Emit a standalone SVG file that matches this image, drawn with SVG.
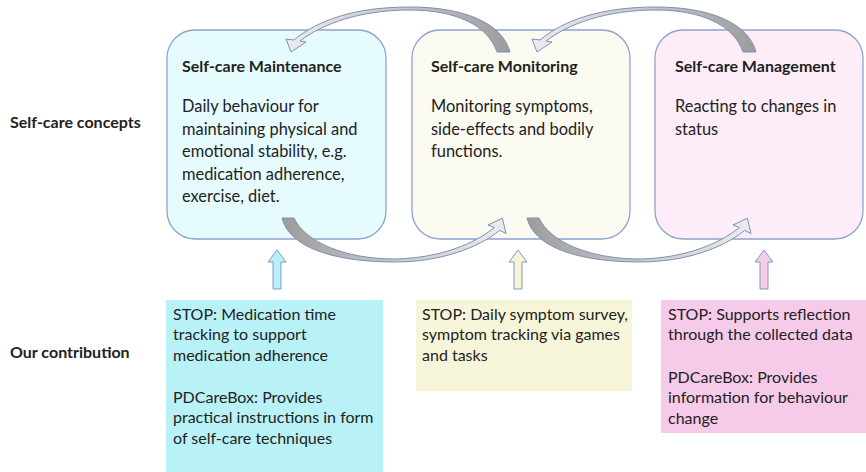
<svg xmlns="http://www.w3.org/2000/svg" width="866" height="472" viewBox="0 0 866 472">
<style>
text{font-family:Lato,"Liberation Sans",sans-serif;font-size:16px;fill:#222}
.b{font-weight:bold}
.body{font-size:16.4px}
.concept{stroke:#8fa3cc;stroke-width:1.3}
.curve{stroke:#7e90b8;stroke-width:1}
.up{stroke:#8397c2;stroke-width:1}
</style>
<defs>
<linearGradient id="gTop" x1="0" y1="0" x2="1" y2="0">
<stop offset="0" stop-color="#ececec"/><stop offset="0.5" stop-color="#c8c8c8"/><stop offset="1" stop-color="#9c9c9c"/>
</linearGradient>
<linearGradient id="gBot" x1="0" y1="0" x2="1" y2="0">
<stop offset="0" stop-color="#9c9c9c"/><stop offset="0.5" stop-color="#c8c8c8"/><stop offset="1" stop-color="#ececec"/>
</linearGradient>
<path id="upArrow" d="M -4 39 L -4 12 L -9 12 L 0 0 L 9 12 L 4 12 L 4 39 Z"/>
</defs>
<rect width="866" height="472" fill="#ffffff"/>

<g id="label-concepts"><text class="b" x="10" y="128">Self-care concepts</text></g>
<g id="label-contribution"><text class="b" x="10" y="358">Our contribution</text></g>

<g id="maintenance">
<rect class="concept" x="167" y="30" width="219" height="209" rx="28" fill="#e6fbfd"/>
<text class="b" x="182" y="72">Self-care Maintenance</text>
<text class="body" x="182" y="112">Daily behaviour for</text>
<text class="body" x="182" y="135">maintaining physical and</text>
<text class="body" x="182" y="157">emotional stability, e.g.</text>
<text class="body" x="182" y="180">medication adherence,</text>
<text class="body" x="182" y="202">exercise, diet.</text>
</g>
<g id="monitoring">
<rect class="concept" x="412" y="30" width="218" height="209" rx="28" fill="#fafaf0"/>
<text class="b" x="431" y="72">Self-care Monitoring</text>
<text class="body" x="431" y="112">Monitoring symptoms,</text>
<text class="body" x="431" y="135">side-effects and bodily</text>
<text class="body" x="431" y="157">functions.</text>
</g>
<g id="management">
<rect class="concept" x="655" y="30" width="208" height="209" rx="28" fill="#fcedf8"/>
<text class="b" x="675" y="72">Self-care Management</text>
<text class="body" x="675" y="112">Reacting to changes in</text>
<text class="body" x="675" y="135">status</text>
</g>

<g id="contrib-maintenance">
<rect x="166" y="300" width="217" height="172" fill="#b8f2f6"/>
<text x="173" y="320">STOP: Medication time</text>
<text x="173" y="340">tracking to support</text>
<text x="173" y="361">medication adherence</text>
<text x="173" y="403">PDCareBox: Provides</text>
<text x="173" y="423">practical instructions in form</text>
<text x="173" y="444">of self-care techniques</text>
</g>
<g id="contrib-monitoring">
<rect x="416" y="300" width="216" height="91" fill="#f7f5d9"/>
<text x="422" y="320">STOP: Daily symptom survey,</text>
<text x="422" y="340">symptom tracking via games</text>
<text x="422" y="361">and tasks</text>
</g>
<g id="contrib-management">
<rect x="661" y="300" width="205" height="133" fill="#f6cbea"/>
<text x="668" y="320">STOP: Supports reflection</text>
<text x="668" y="340">through the collected data</text>
<text x="668" y="383">PDCareBox: Provides</text>
<text x="668" y="403">information for behaviour</text>
<text x="668" y="424">change</text>
</g>

<g id="connectors">
<path class="curve" fill="url(#gTop)" d="M 510 52 C 502 22, 462 7, 410 7 C 355 7, 318 20, 294 40 L 286 39 L 291 52 L 306 42 L 300 41 C 322 24, 360 10, 410 10 C 455 10, 488 25, 497 52 Z"/>
<path class="curve" fill="url(#gTop)" transform="translate(246,0)" d="M 510 52 C 502 22, 462 7, 410 7 C 355 7, 318 20, 294 40 L 286 39 L 291 52 L 306 42 L 300 41 C 322 24, 360 10, 410 10 C 455 10, 488 25, 497 52 Z"/>
<path class="curve" fill="url(#gBot)" d="M 282 218 C 290 250, 340 262, 395 262 C 440 262, 478 248, 499.7 230.4 L 506 233.5 L 502.4 218.2 L 488 225 L 494.3 227.6 C 474 244, 440 258, 395 259 C 345 259, 305 242, 294 218 Z"/>
<path class="curve" fill="url(#gBot)" transform="translate(245,0)" d="M 282 218 C 290 250, 340 262, 395 262 C 440 262, 478 248, 499.7 230.4 L 506 233.5 L 502.4 218.2 L 488 225 L 494.3 227.6 C 474 244, 440 258, 395 259 C 345 259, 305 242, 294 218 Z"/>
<use href="#upArrow" class="up" x="277" y="250" fill="#b6f0f8"/>
<use href="#upArrow" class="up" x="518" y="250" fill="#f8f5d6"/>
<use href="#upArrow" class="up" x="764" y="250" fill="#f5cbe7"/>
</g>
</svg>
